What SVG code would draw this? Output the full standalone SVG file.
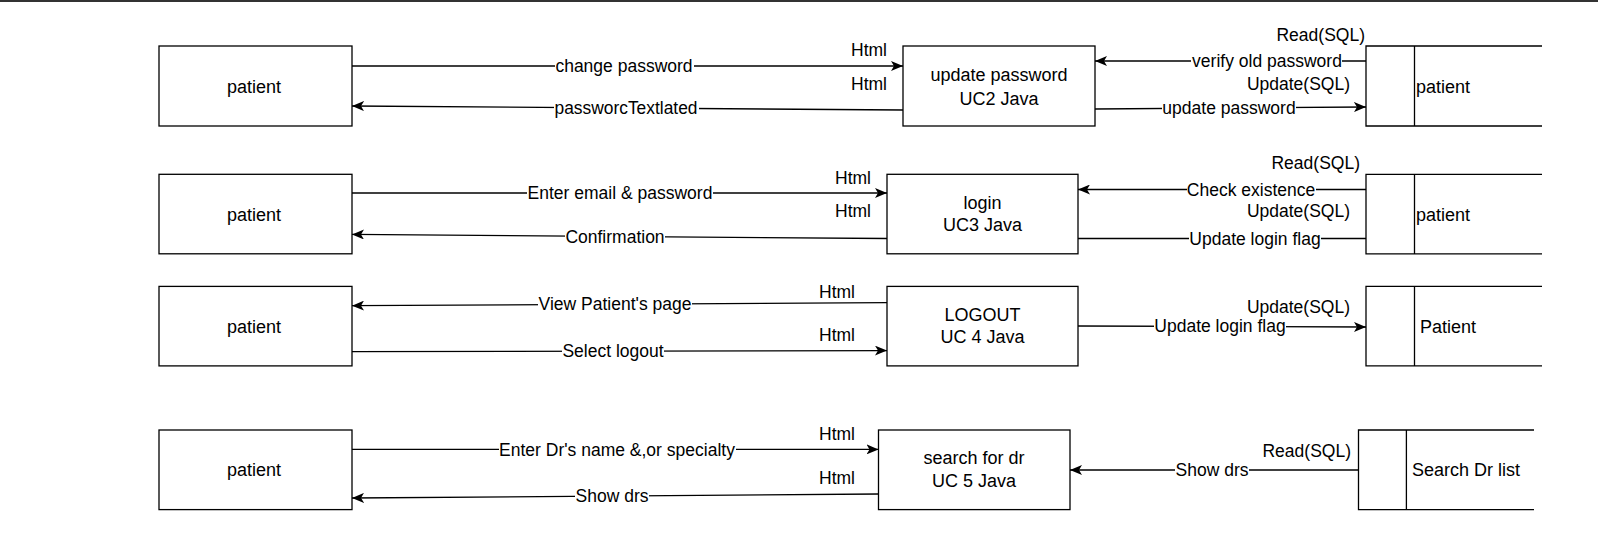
<svg xmlns="http://www.w3.org/2000/svg" width="1598" height="537" viewBox="0 0 1598 537">
<style>
.box{fill:#fff;stroke:#000;stroke-width:1.3}
.ds{fill:none;stroke:#000;stroke-width:1.3}
.e{fill:none;stroke:#000;stroke-width:1.3}
.a{marker-end:url(#arr)}
.t{font-family:"Liberation Sans",Arial,Helvetica,sans-serif;font-size:17.5px;fill:#000}
.n{font-family:"Liberation Sans",Arial,Helvetica,sans-serif;font-size:18px;fill:#000;text-anchor:middle}
.m{text-anchor:middle}
.r{text-anchor:end}
.bg{fill:#fff}
</style>
<defs>
<marker id="arr" viewBox="0 0 12 10" refX="12" refY="5" markerWidth="12" markerHeight="10" markerUnits="userSpaceOnUse" orient="auto">
<path d="M0,0 L12,5 L0,10 L3,5 Z" fill="#000"/>
</marker>
</defs>
<rect x="0" y="0" width="1598" height="2" fill="#333"/>

<g id="edges">
<!-- Row 1 -->
<line class="e a" x1="352" y1="66" x2="903" y2="66"/>
<rect class="bg" x="555" y="56" width="139" height="20"/>
<text class="t m" x="624" y="72.3">change password</text>
<line class="e a" x1="903" y1="110" x2="352" y2="106"/>
<rect class="bg" x="554" y="98" width="145" height="20"/>
<text class="t m" x="626" y="114.3" textLength="143" lengthAdjust="spacingAndGlyphs">passworcTextlated</text>
<line class="e a" x1="1366" y1="61" x2="1095" y2="61"/>
<rect class="bg" x="1191" y="51" width="151" height="20"/>
<text class="t m" x="1267" y="67.3">verify old password</text>
<line class="e a" x1="1095" y1="109" x2="1366" y2="107"/>
<rect class="bg" x="1162" y="98" width="134" height="20"/>
<text class="t m" x="1229" y="114.3">update password</text>
<text class="t r" x="887" y="56.3">Html</text>
<text class="t r" x="887" y="89.8">Html</text>
<text class="t r" x="1365" y="41">Read(SQL)</text>
<text class="t r" x="1350" y="90">Update(SQL)</text>

<!-- Row 2 -->
<line class="e a" x1="352" y1="193" x2="887" y2="193"/>
<rect class="bg" x="527" y="183" width="186" height="20"/>
<text class="t m" x="620" y="199.3">Enter email &amp; password</text>
<line class="e a" x1="887" y1="238.5" x2="352" y2="234.4"/>
<rect class="bg" x="565" y="226.5" width="100" height="20"/>
<text class="t m" x="615" y="242.8">Confirmation</text>
<line class="e a" x1="1366" y1="189.5" x2="1078" y2="189.5"/>
<rect class="bg" x="1187" y="179.5" width="129" height="20"/>
<text class="t m" x="1251" y="195.8">Check existence</text>
<line class="e" x1="1078" y1="238.5" x2="1366" y2="238.5"/>
<rect class="bg" x="1189" y="228.5" width="132" height="20"/>
<text class="t m" x="1255" y="244.8">Update login flag</text>
<text class="t r" x="871" y="184.3">Html</text>
<text class="t r" x="871" y="217.3">Html</text>
<text class="t r" x="1360" y="169.3">Read(SQL)</text>
<text class="t r" x="1350" y="217.3">Update(SQL)</text>

<!-- Row 3 -->
<line class="e a" x1="887" y1="302.7" x2="352" y2="305.7"/>
<rect class="bg" x="538" y="294" width="154" height="20"/>
<text class="t m" x="615" y="310.3">View Patient's page</text>
<line class="e a" x1="352" y1="351.6" x2="887" y2="350.6"/>
<rect class="bg" x="562" y="341" width="102" height="20"/>
<text class="t m" x="613" y="357.3">Select logout</text>
<line class="e a" x1="1078" y1="326" x2="1366" y2="327"/>
<rect class="bg" x="1154" y="316" width="132" height="20"/>
<text class="t m" x="1220" y="332.3">Update login flag</text>
<text class="t r" x="855" y="297.8">Html</text>
<text class="t r" x="855" y="341.3">Html</text>
<text class="t r" x="1350" y="313">Update(SQL)</text>

<!-- Row 4 -->
<line class="e a" x1="352" y1="449.4" x2="878.5" y2="449.4"/>
<rect class="bg" x="499" y="439.4" width="237" height="20"/>
<text class="t m" x="617" y="455.7">Enter Dr's name &amp;,or specialty</text>
<line class="e a" x1="878.5" y1="494" x2="352" y2="498"/>
<rect class="bg" x="575" y="486" width="74" height="20"/>
<text class="t m" x="612" y="502.3">Show drs</text>
<line class="e a" x1="1358.5" y1="470" x2="1070" y2="470"/>
<rect class="bg" x="1175" y="460" width="74" height="20"/>
<text class="t m" x="1212" y="476.3">Show drs</text>
<text class="t r" x="855" y="440.3">Html</text>
<text class="t r" x="855" y="484.3">Html</text>
<text class="t r" x="1351" y="456.7">Read(SQL)</text>
</g>

<g id="patient1">
<rect class="box" x="159" y="46" width="193" height="80"/>
<text class="n" x="254" y="92.5">patient</text>
</g>
<g id="uc2">
<rect class="box" x="903" y="46" width="192" height="80"/>
<text class="n" x="999" y="81">update password</text>
<text class="n" x="999" y="104.5">UC2 Java</text>
</g>
<g id="store1">
<path class="ds" d="M1542,46 H1366 V126 H1542 M1414.5,46 V126"/>
<text class="n" x="1416" y="92.5" style="text-anchor:start">patient</text>
</g>

<g id="patient2">
<rect class="box" x="159" y="174.3" width="193" height="79.5"/>
<text class="n" x="254" y="220.5">patient</text>
</g>
<g id="uc3">
<rect class="box" x="887" y="174.3" width="191" height="79.5"/>
<text class="n" x="982.5" y="208.5">login</text>
<text class="n" x="982.5" y="231">UC3 Java</text>
</g>
<g id="store2">
<path class="ds" d="M1542,174.3 H1366 V253.8 H1542 M1414.5,174.3 V253.8"/>
<text class="n" x="1416" y="220.5" style="text-anchor:start">patient</text>
</g>

<g id="patient3">
<rect class="box" x="159" y="286.4" width="193" height="79.5"/>
<text class="n" x="254" y="332.5">patient</text>
</g>
<g id="uc4">
<rect class="box" x="887" y="286.4" width="191" height="79.5"/>
<text class="n" x="982.5" y="320.5">LOGOUT</text>
<text class="n" x="982.5" y="343">UC 4 Java</text>
</g>
<g id="store3">
<path class="ds" d="M1542,286.4 H1366 V365.9 H1542 M1414.5,286.4 V365.9"/>
<text class="n" x="1420" y="332.5" style="text-anchor:start">Patient</text>
</g>

<g id="patient4">
<rect class="box" x="159" y="430" width="193" height="79.6"/>
<text class="n" x="254" y="476">patient</text>
</g>
<g id="uc5">
<rect class="box" x="878.5" y="430" width="191.5" height="79.6"/>
<text class="n" x="974" y="464">search for dr</text>
<text class="n" x="974" y="486.5">UC 5 Java</text>
</g>
<g id="store4">
<path class="ds" d="M1534,430 H1358.5 V509.6 H1534 M1406.4,430 V509.6"/>
<text class="n" x="1412" y="476" style="text-anchor:start">Search Dr list</text>
</g>
</svg>
